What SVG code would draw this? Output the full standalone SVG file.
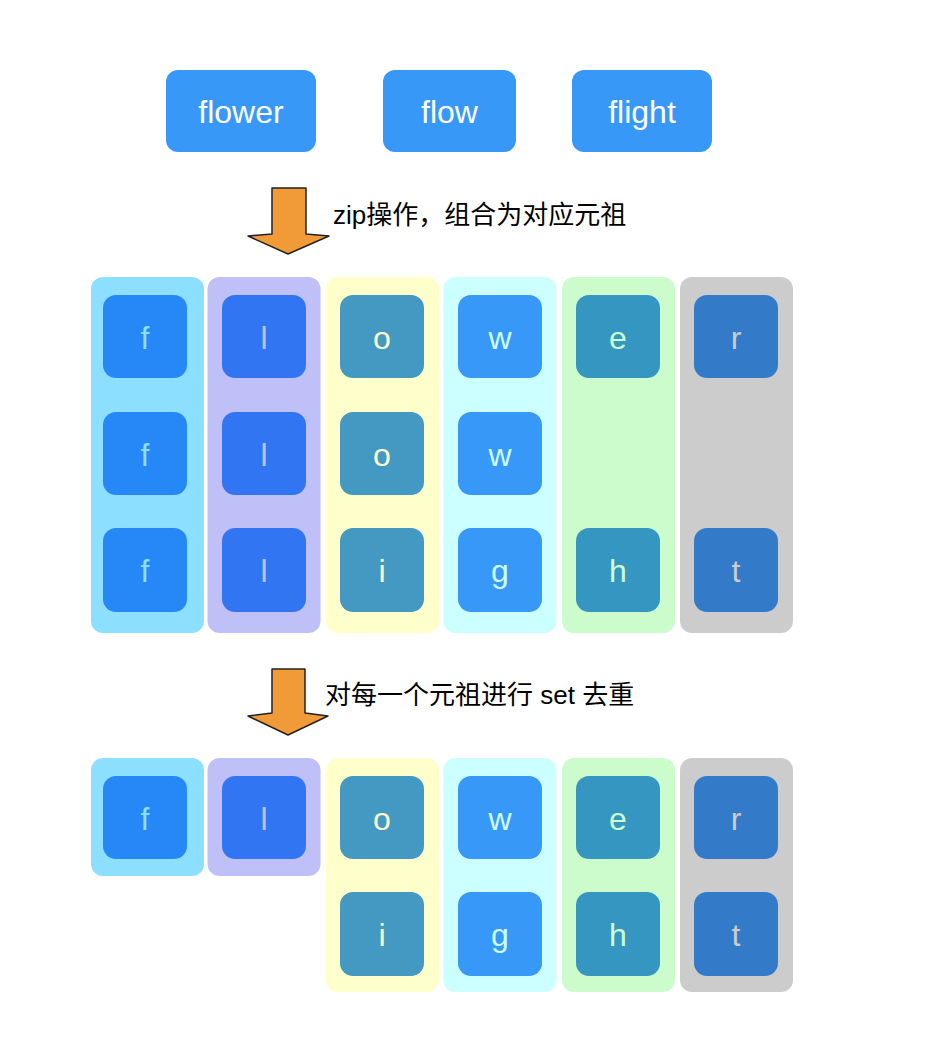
<svg xmlns="http://www.w3.org/2000/svg" width="940" height="1058" viewBox="0 0 940 1058">
<style>
.word{fill:#3898F8}
.wt{font-family:"Liberation Sans","Noto Sans CJK SC",sans-serif;font-size:32px;fill:#ffffff;text-anchor:middle}
.lbl{font-family:"Liberation Sans","Noto Sans CJK SC",sans-serif;font-size:26px;fill:#000000}
.arrow{fill:#F19B38;stroke:#222222;stroke-width:1.5;stroke-linejoin:round}
.ct{font-family:"Liberation Sans","Noto Sans CJK SC",sans-serif;font-size:32px;text-anchor:middle}
.c1{fill:#8DDFFF}.t1{fill:#2688F6}.x1{fill:#8DDFFF}
.c2{fill:#C0C0F8}.t2{fill:#3275F2}.x2{fill:#C0C0F8}
.c3{fill:#FFFFCC}.t3{fill:#4399C2}.x3{fill:#FFFFCC}
.c4{fill:#CCFFFF}.t4{fill:#3898F8}.x4{fill:#CCFFFF}
.c5{fill:#CCFCCC}.t5{fill:#3597C1}.x5{fill:#CCFFCC}
.c6{fill:#CCCCCC}.t6{fill:#337AC8}.x6{fill:#CCCCCC}
</style>
<rect width="940" height="1058" fill="#ffffff"/>

<g id="words">
<g id="w-flower"><rect class="word" x="166" y="70" width="150" height="82" rx="12"/><text class="wt" x="241" y="123">flower</text></g>
<g id="w-flow"><rect class="word" x="383" y="70" width="133" height="82" rx="12"/><text class="wt" x="449.5" y="123">flow</text></g>
<g id="w-flight"><rect class="word" x="572" y="70" width="140" height="82" rx="12"/><text class="wt" x="642" y="123">flight</text></g>
</g>

<g id="connectors">
<path class="arrow" d="M272,188 L306,188 L306,234 L329,236 L288,254 L248,236 L272,234 Z"/>
<path class="arrow" d="M272,669 L305,669 L305,713 L328,716 L288,735 L248,716 L272,713 Z"/>
</g>
<text class="lbl" x="333" y="224">zip操作，组合为对应元祖</text>
<text class="lbl" x="325" y="704">对每一个元祖进行 set 去重</text>

<g id="zipped">
<g id="z-col1"><rect class="c1" x="91" y="277" width="113" height="356" rx="12"/>
<rect class="t1" x="103" y="295" width="84" height="83" rx="13"/><text class="ct x1" x="145" y="349">f</text>
<rect class="t1" x="103" y="412" width="84" height="83" rx="13"/><text class="ct x1" x="145" y="466">f</text>
<rect class="t1" x="103" y="528" width="84" height="84" rx="13"/><text class="ct x1" x="145" y="582">f</text></g>
<g id="z-col2"><rect class="c2" x="207.5" y="277" width="113" height="356" rx="12"/>
<rect class="t2" x="222" y="295" width="84" height="83" rx="13"/><text class="ct x2" x="264" y="349">l</text>
<rect class="t2" x="222" y="412" width="84" height="83" rx="13"/><text class="ct x2" x="264" y="466">l</text>
<rect class="t2" x="222" y="528" width="84" height="84" rx="13"/><text class="ct x2" x="264" y="582">l</text></g>
<g id="z-col3"><rect class="c3" x="326" y="277" width="113" height="356" rx="12"/>
<rect class="t3" x="340" y="295" width="84" height="83" rx="13"/><text class="ct x3" x="382" y="349">o</text>
<rect class="t3" x="340" y="412" width="84" height="83" rx="13"/><text class="ct x3" x="382" y="466">o</text>
<rect class="t3" x="340" y="528" width="84" height="84" rx="13"/><text class="ct x3" x="382" y="582">i</text></g>
<g id="z-col4"><rect class="c4" x="443.5" y="277" width="113" height="356" rx="12"/>
<rect class="t4" x="458" y="295" width="84" height="83" rx="13"/><text class="ct x4" x="500" y="349">w</text>
<rect class="t4" x="458" y="412" width="84" height="83" rx="13"/><text class="ct x4" x="500" y="466">w</text>
<rect class="t4" x="458" y="528" width="84" height="84" rx="13"/><text class="ct x4" x="500" y="582">g</text></g>
<g id="z-col5"><rect class="c5" x="562" y="277" width="113" height="356" rx="12"/>
<rect class="t5" x="576" y="295" width="84" height="83" rx="13"/><text class="ct x5" x="618" y="349">e</text>
<rect class="t5" x="576" y="528" width="84" height="84" rx="13"/><text class="ct x5" x="618" y="582">h</text></g>
<g id="z-col6"><rect class="c6" x="680" y="277" width="113" height="356" rx="12"/>
<rect class="t6" x="694" y="295" width="84" height="83" rx="13"/><text class="ct x6" x="736" y="349">r</text>
<rect class="t6" x="694" y="528" width="84" height="84" rx="13"/><text class="ct x6" x="736" y="582">t</text></g>
</g>

<g id="deduped">
<g id="d-col1"><rect class="c1" x="91" y="758" width="113" height="118" rx="12"/>
<rect class="t1" x="103" y="776" width="84" height="83" rx="13"/><text class="ct x1" x="145" y="830">f</text></g>
<g id="d-col2"><rect class="c2" x="207.5" y="758" width="113" height="118" rx="12"/>
<rect class="t2" x="222" y="776" width="84" height="83" rx="13"/><text class="ct x2" x="264" y="830">l</text></g>
<g id="d-col3"><rect class="c3" x="326" y="758" width="113" height="234" rx="12"/>
<rect class="t3" x="340" y="776" width="84" height="83" rx="13"/><text class="ct x3" x="382" y="830">o</text>
<rect class="t3" x="340" y="892" width="84" height="84" rx="13"/><text class="ct x3" x="382" y="946">i</text></g>
<g id="d-col4"><rect class="c4" x="443.5" y="758" width="113" height="234" rx="12"/>
<rect class="t4" x="458" y="776" width="84" height="83" rx="13"/><text class="ct x4" x="500" y="830">w</text>
<rect class="t4" x="458" y="892" width="84" height="84" rx="13"/><text class="ct x4" x="500" y="946">g</text></g>
<g id="d-col5"><rect class="c5" x="562" y="758" width="113" height="234" rx="12"/>
<rect class="t5" x="576" y="776" width="84" height="83" rx="13"/><text class="ct x5" x="618" y="830">e</text>
<rect class="t5" x="576" y="892" width="84" height="84" rx="13"/><text class="ct x5" x="618" y="946">h</text></g>
<g id="d-col6"><rect class="c6" x="680" y="758" width="113" height="234" rx="12"/>
<rect class="t6" x="694" y="776" width="84" height="83" rx="13"/><text class="ct x6" x="736" y="830">r</text>
<rect class="t6" x="694" y="892" width="84" height="84" rx="13"/><text class="ct x6" x="736" y="946">t</text></g>
</g>
</svg>
